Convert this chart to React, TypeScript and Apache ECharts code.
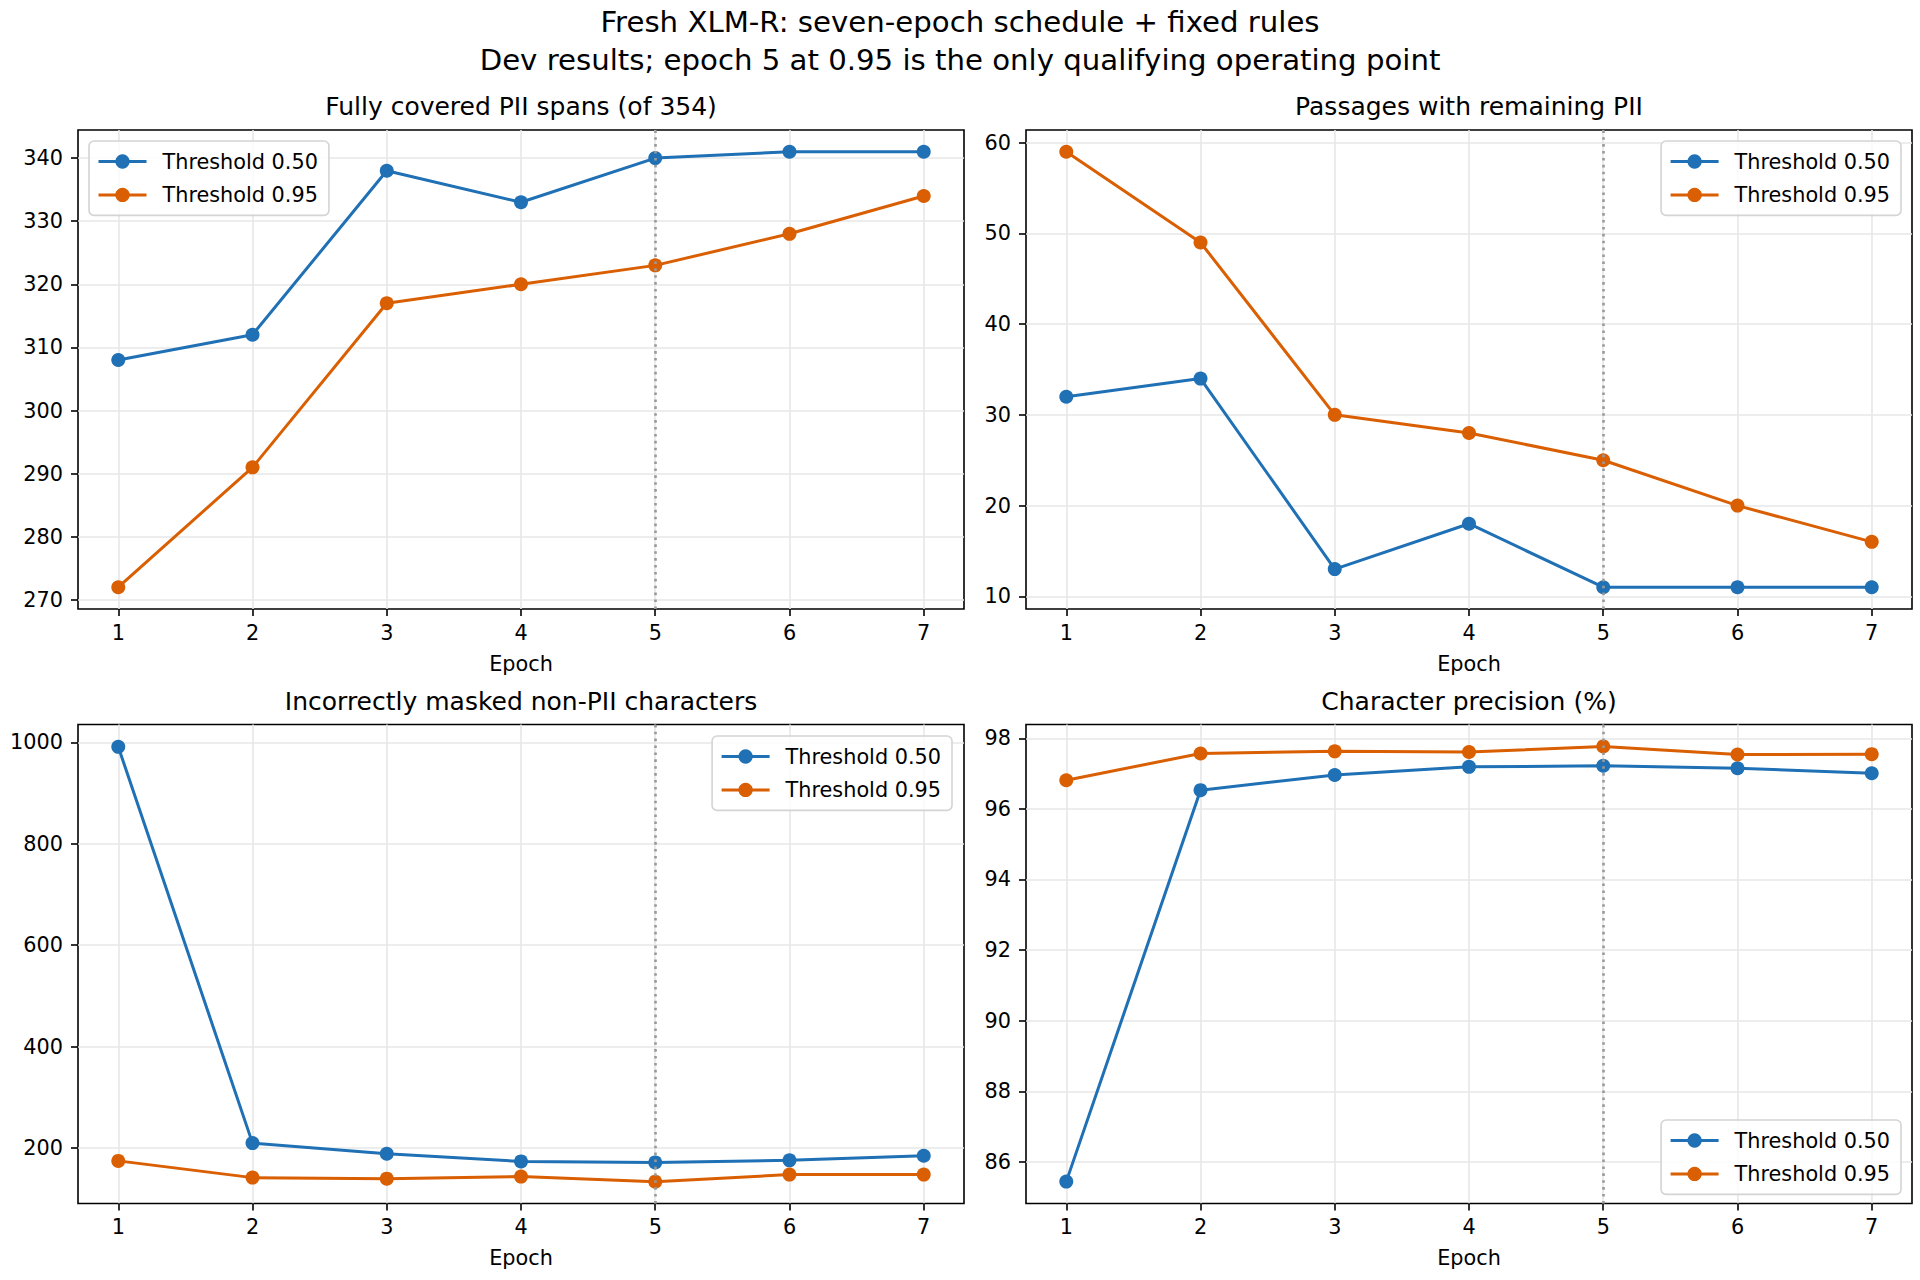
import React, { useEffect, useRef } from "react";
import * as echarts from "echarts";

const epochs = [1, 2, 3, 4, 5, 6, 7];
const seriesNames = ["Threshold 0.50", "Threshold 0.95"];

const coveredT050 = [308, 312, 338, 333, 340, 341, 341];
const coveredT095 = [272, 291, 317, 320, 323, 328, 334];
const remainingT050 = [32, 34, 13, 18, 11, 11, 11];
const remainingT095 = [59, 49, 30, 28, 25, 20, 16];
const maskedT050 = [991, 210, 189, 174, 172, 176, 185];
const maskedT095 = [175, 142, 140, 144, 134, 148, 148];
const precisionT050 = [85.44, 96.53, 96.96, 97.19, 97.22, 97.15, 97.01];
const precisionT095 = [96.81, 97.57, 97.63, 97.61, 97.77, 97.54, 97.55];

const coveredTicks = [270, 280, 290, 300, 310, 320, 330, 340];
const remainingTicks = [10, 20, 30, 40, 50, 60];
const maskedTicks = [200, 400, 600, 800, 1000];
const precisionTicks = [86, 88, 90, 92, 94, 96, 98];

const panelTitles = [
  "Fully covered PII spans (of 354)",
  "Passages with remaining PII",
  "Incorrectly masked non-PII characters",
  "Character precision (%)",
];
const suptitle =
  "Fresh XLM-R: seven-epoch schedule + fixed rules\nDev results; epoch 5 at 0.95 is the only qualifying operating point";
const xName = "Epoch";
const markedEpoch = 5;

const BLUE = "#1f70b4";
const ORANGE = "#d95f02";
const FONT = "DejaVu Sans";

export default function App() {
  const ref = useRef<HTMLDivElement>(null);
  useEffect(() => {
    document.body.style.margin = "0";
    const chart = echarts.init(ref.current!, undefined, { renderer: "svg" });

    const panels = [
      { a: coveredT050, b: coveredT095, ticks: coveredTicks, min: 268.55, max: 344.45 },
      { a: remainingT050, b: remainingT095, ticks: remainingTicks, min: 8.6, max: 61.4 },
      { a: maskedT050, b: maskedT095, ticks: maskedTicks, min: 91, max: 1035 },
      { a: precisionT050, b: precisionT095, ticks: precisionTicks, min: 84.82, max: 98.39 },
    ];
    const gridPos = [
      { left: 78, top: 130 },
      { left: 1026, top: 130 },
      { left: 78, top: 724.5 },
      { left: 1026, top: 724.5 },
    ];
    const W = 886;
    const H = 479;

    const grids = gridPos.map((g) => ({
      left: g.left,
      top: g.top,
      width: W,
      height: H,
      show: true,
      borderColor: "#000",
      borderWidth: 1.6,
      backgroundColor: "transparent",
      containLabel: false,
    }));

    const xAxes = gridPos.map((_, i) => ({
      type: "value",
      gridIndex: i,
      min: 0.7,
      max: 7.3,
      name: xName,
      nameLocation: "middle",
      nameGap: 44,
      nameTextStyle: { fontFamily: FONT, fontSize: 20.8, color: "#000" },
      axisLine: { show: false },
      axisTick: {
        show: true,
        length: 7,
        customValues: epochs,
        lineStyle: { color: "#000", width: 1.6 },
      },
      axisLabel: {
        customValues: epochs,
        margin: 13,
        fontFamily: FONT,
        fontSize: 20.8,
        color: "#000",
        formatter: (v: number) => String(v),
      },
      splitLine: { show: true, lineStyle: { color: "#e7e7e7", width: 1.6 } },
    }));

    const yAxes = panels.map((p, i) => ({
      type: "value",
      gridIndex: i,
      min: p.min,
      max: p.max,
      axisLine: { show: false },
      axisTick: {
        show: true,
        length: 7,
        customValues: p.ticks,
        lineStyle: { color: "#000", width: 1.6 },
      },
      axisLabel: {
        customValues: p.ticks,
        margin: 15,
        fontFamily: FONT,
        fontSize: 20.8,
        color: "#000",
        formatter: (v: number) => String(v),
      },
      splitLine: { show: true, lineStyle: { color: "#e7e7e7", width: 1.6 } },
    }));

    const series: any[] = [];
    panels.forEach((p, i) => {
      [p.a, p.b].forEach((vals, k) => {
        const color = k === 0 ? BLUE : ORANGE;
        const s: any = {
          type: "line",
          name: seriesNames[k],
          xAxisIndex: i,
          yAxisIndex: i,
          data: epochs.map((e, j) => [e, vals[j]]),
          symbol: "circle",
          symbolSize: 14,
          showSymbol: true,
          lineStyle: { color, width: 3 },
          itemStyle: { color },
          z: 3,
        };
        if (k === 1) {
          s.markLine = {
            silent: true,
            symbol: "none",
            label: { show: false },
            animation: false,
            lineStyle: { color: "#999999", width: 2.6, type: [2.6, 4.3], opacity: 1 },
            data: [{ xAxis: markedEpoch }],
            z: 5,
          };
        }
        series.push(s);
      });
    });

    const legendBase = {
      orient: "vertical",
      data: seriesNames,
      itemWidth: 48,
      itemHeight: 18,
      itemGap: 12.4,
      padding: [10, 11, 10, 8],
      borderColor: "#d4d4d4",
      borderWidth: 1.6,
      borderRadius: 5,
      backgroundColor: "rgba(255,255,255,0.8)",
      selectedMode: false,
      lineStyle: { width: 3 },
      textStyle: {
        fontFamily: FONT,
        fontSize: 20.8,
        color: "#000",
        lineHeight: 20,
        padding: [0, 0, 0, 11],
      },
    };
    const legends = [
      { ...legendBase, left: 89, top: 141 },
      { ...legendBase, right: 19, top: 141 },
      { ...legendBase, right: 968, top: 736 },
      { ...legendBase, right: 19, top: 1120 },
    ];

    const titleCenters = gridPos.map((g) => ({ x: g.left + W / 2, y: g.top - 23.5 }));
    const graphics: any[] = [
      {
        type: "text",
        x: 960,
        y: 41,
        style: {
          text: suptitle,
          fontFamily: FONT,
          fontSize: 29.2,
          lineHeight: 37.5,
          fill: "#000",
          textAlign: "center",
          textVerticalAlign: "middle",
        },
      },
      ...titleCenters.map((c, i) => ({
        type: "text",
        x: c.x,
        y: c.y,
        style: {
          text: panelTitles[i],
          fontFamily: FONT,
          fontSize: 25,
          fill: "#000",
          textAlign: "center",
          textVerticalAlign: "middle",
        },
      })),
    ];

    chart.setOption({
      animation: false,
      backgroundColor: "#ffffff",
      textStyle: { fontFamily: FONT },
      grid: grids,
      xAxis: xAxes,
      yAxis: yAxes,
      legend: legends,
      series,
      graphic: graphics,
    });
    return () => chart.dispose();
  }, []);
  return <div ref={ref} style={{ width: 1920, height: 1280 }} />;
}
